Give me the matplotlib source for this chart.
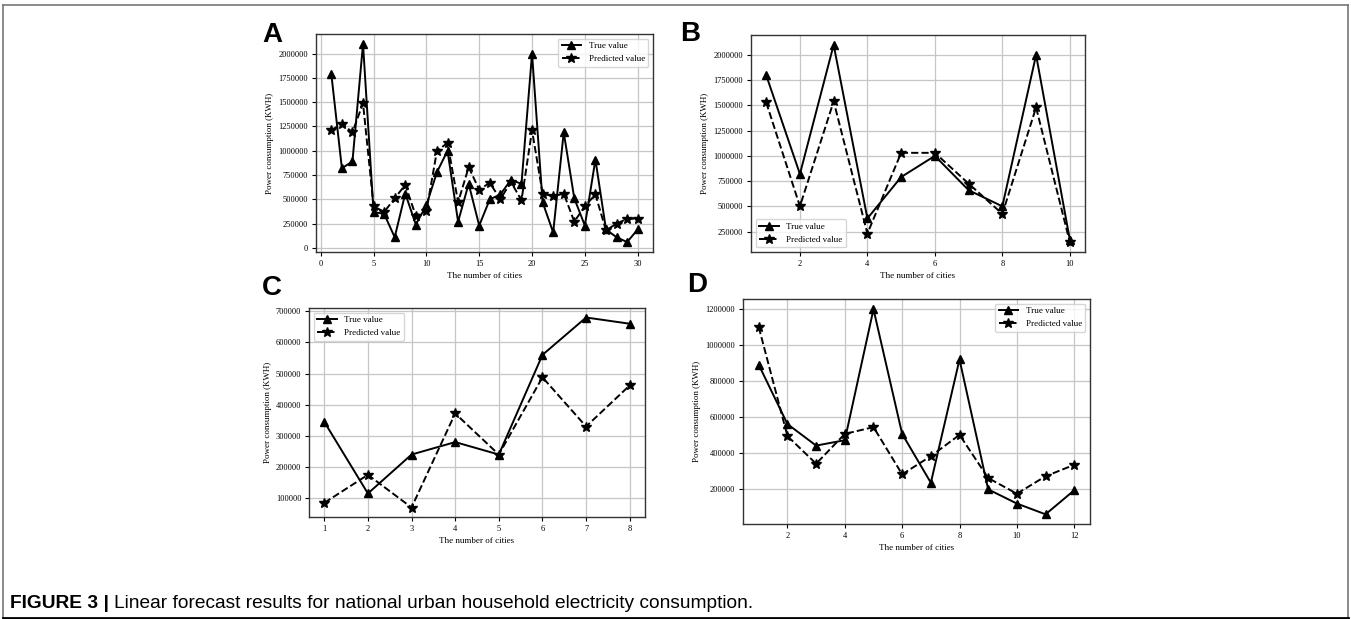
import matplotlib
matplotlib.use("Agg")
import matplotlib.pyplot as plt
from matplotlib.lines import Line2D
from matplotlib.ticker import MultipleLocator

# Panel A: all 30 cities
a_x = list(range(1, 31))
a_true = [1790000, 820000, 890000, 2100000, 370000, 350000, 110000, 560000, 240000, 440000,
          780000, 1000000, 270000, 660000, 230000, 500000, 550000, 700000, 660000, 2000000,
          470000, 160000, 1190000, 510000, 230000, 910000, 190000, 110000, 60000, 190000]
a_pred = [1210000, 1280000, 1190000, 1490000, 430000, 370000, 510000, 650000, 330000, 380000,
          1000000, 1080000, 470000, 830000, 600000, 670000, 500000, 680000, 490000, 1210000,
          560000, 530000, 560000, 270000, 430000, 550000, 180000, 250000, 300000, 300000]

# Panel B: 10 cities
b_x = list(range(1, 11))
b_true = [1800000, 820000, 2100000, 380000, 790000, 1000000, 660000, 500000, 2000000, 170000]
b_pred = [1530000, 500000, 1540000, 230000, 1030000, 1030000, 725000, 425000, 1480000, 145000]

# Panel C: 8 cities
c_x = list(range(1, 9))
c_true = [345000, 115000, 240000, 280000, 240000, 560000, 680000, 660000]
c_pred = [85000, 175000, 70000, 372000, 240000, 488000, 330000, 462000]

# Panel D: 12 cities
d_x = list(range(1, 13))
d_true = [890000, 560000, 440000, 470000, 1200000, 505000, 233000, 920000, 196000, 117000, 57000, 191000]
d_pred = [1100000, 493000, 339000, 505000, 543000, 280000, 381000, 500000, 259000, 172000, 269000, 333000]

W, H = 1351, 619
plt.rcParams['font.family'] = ['Liberation Serif', 'DejaVu Serif']

fig = plt.figure(figsize=(W / 100, H / 100), dpi=100)


def rect(l, t, r, b):
    return [l / W, 1 - b / H, (r - l) / W, (b - t) / H]


def panel(box, x, true, pred, ystep, loc):
    ax = fig.add_axes(rect(*box))
    ax.plot(x, true, '-', color='black', marker='^', ms=6, lw=1.4, label='True value')
    ax.plot(x, pred, '--', color='black', marker='*', ms=7, lw=1.4, label='Predicted value')
    ax.grid(True, color='#c6c6c6', lw=0.9)
    ax.set_axisbelow(True)
    ax.yaxis.set_major_locator(MultipleLocator(ystep))
    ax.ticklabel_format(axis='y', style='plain', useOffset=False)
    ax.tick_params(labelsize=6, length=3, width=0.8, pad=2.5)
    for s in ax.spines.values():
        s.set_color('#333333')
        s.set_linewidth(1.0)
    ax.set_xlabel('The number of cities', fontsize=6.5, labelpad=3)
    ax.set_ylabel('Power consumption (KWH)', fontsize=6.5, labelpad=3)
    ax.legend(loc=loc, fontsize=6.5, handlelength=2.2)
    return ax


axA = panel((316, 34, 653, 252), a_x, a_true, a_pred, 250000, 'upper right')
axB = panel((751, 35, 1085, 252), b_x, b_true, b_pred, 250000, 'lower left')
axC = panel((309, 308, 645, 517), c_x, c_true, c_pred, 100000, 'upper left')
axD = panel((743, 299, 1090, 524), d_x, d_true, d_pred, 200000, 'upper right')
axD.set_ylim(3000, 1257000)

letter_font = ['Liberation Sans', 'DejaVu Sans']
for lab, (px, py) in {'A': (262, 42), 'B': (680, 41), 'C': (262, 295), 'D': (687, 292)}.items():
    fig.text(px / W, 1 - py / H, lab, fontsize=20, fontweight='bold', family=letter_font,
             va='baseline', ha='left')

# caption
cap_font = ['Liberation Sans', 'DejaVu Sans']
t1 = fig.text(10 / W, 1 - 608 / H, 'FIGURE 3 |', fontsize=13.8, fontweight='bold',
              family=cap_font, va='baseline')
fig.canvas.draw()
bb = t1.get_window_extent()
fig.text((bb.x1 + 5) / W, 1 - 608 / H,
         'Linear forecast results for national urban household electricity consumption.',
         fontsize=13.8, family=cap_font, va='baseline')

# page frame
fig.add_artist(Line2D([3 / W, 1348 / W], [1 - 4.5 / H, 1 - 4.5 / H], transform=fig.transFigure,
                      color='#777777', lw=1.2))
fig.add_artist(Line2D([3 / W, 3 / W], [1 - 4.5 / H, 1 - 617 / H], transform=fig.transFigure,
                      color='#777777', lw=1.2))
fig.add_artist(Line2D([1348 / W, 1348 / W], [1 - 4.5 / H, 1 - 617 / H], transform=fig.transFigure,
                      color='#777777', lw=1.2))
fig.add_artist(Line2D([3 / W, 1348 / W], [1 - 617.5 / H, 1 - 617.5 / H], transform=fig.transFigure,
                      color='black', lw=2))

fig.savefig('out.png', dpi=100)
